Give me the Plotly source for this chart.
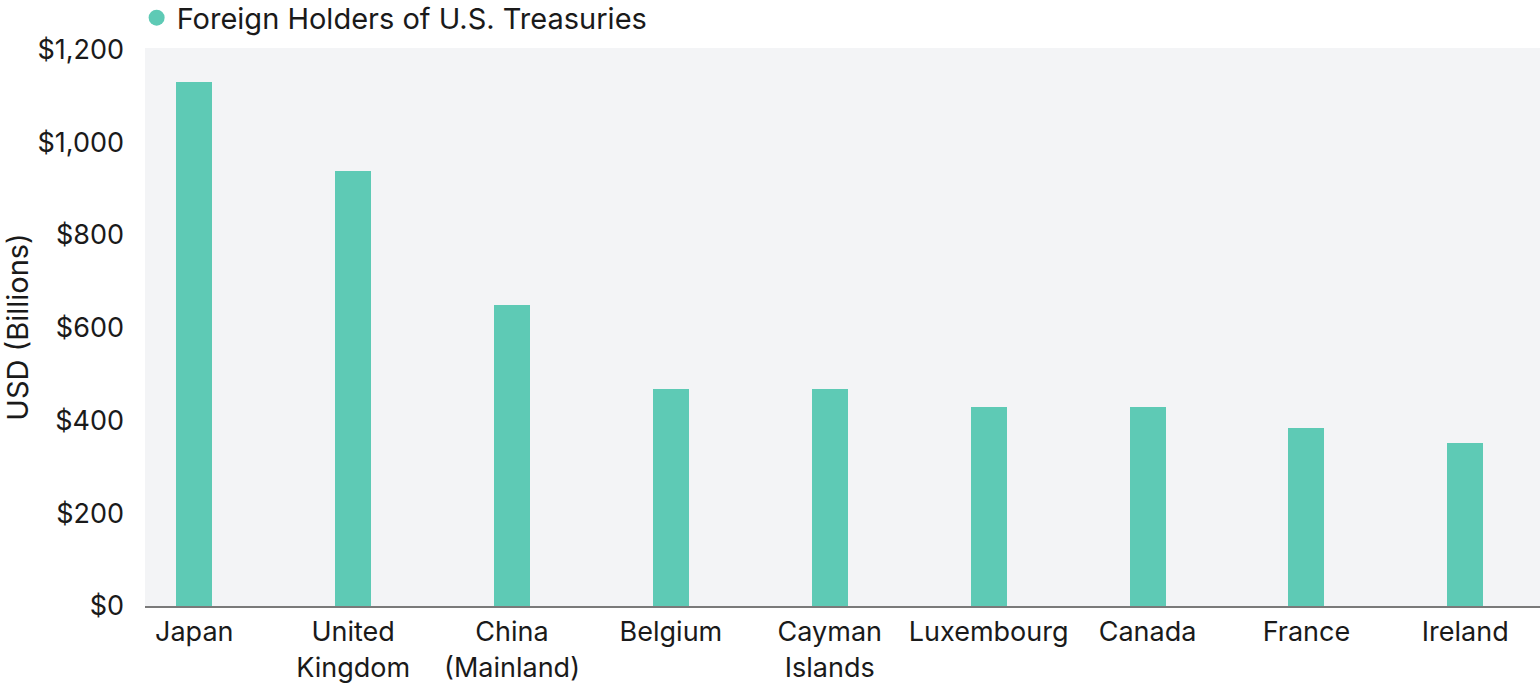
import plotly.graph_objects as go

categories = ["Japan", "United<br>Kingdom", "China<br>(Mainland)", "Belgium", "Cayman<br>Islands",
              "Luxembourg", "Canada", "France", "Ireland"]
holdings = [1130, 937, 650, 468, 468, 430, 430, 383, 352]
y_ticks = [0, 200, 400, 600, 800, 1000, 1200]
y_tick_labels = ["$0", "$200", "$400", "$600", "$800", "$1,000", "$1,200"]
series_name = "Foreign Holders of U.S. Treasuries"

BAR = "#5ECAB5"
FONT = "Inter"

fig = go.Figure()
fig.add_trace(go.Bar(
    x=list(range(len(categories))), y=holdings, width=0.227,
    marker=dict(color=BAR, line=dict(width=0)), showlegend=False, name=series_name,
))
fig.add_trace(go.Scatter(
    x=[None], y=[None], mode="markers", name=series_name,
    marker=dict(color=BAR, size=22, symbol="circle"), showlegend=True,
))

fig.update_layout(
    width=1540, height=684,
    margin=dict(l=145, r=0, t=48, b=78, autoexpand=False),
    paper_bgcolor="white", plot_bgcolor="#F3F4F6",
    font=dict(family=FONT, size=27, color="#1a1a1a"),
    legend=dict(x=-0.006, xanchor="left", y=1.054, yanchor="middle",
                orientation="h", bgcolor="rgba(0,0,0,0)",
                font=dict(size=29, color="#1a1a1a"), itemclick=False),
    bargap=0,
)
fig.update_xaxes(
    range=[-0.31, 8.47], tickmode="array", tickvals=list(range(len(categories))),
    ticktext=categories, showgrid=False, zeroline=False, showline=True,
    linecolor="#7a7a7a", linewidth=2, ticks="", tickfont=dict(size=27),
    ticklabelstandoff=1,
)
fig.update_yaxes(
    range=[0, 1203], tickmode="array", tickvals=y_ticks, ticktext=y_tick_labels,
    showgrid=False, zeroline=False, showline=False, ticks="",
    ticklabelstandoff=20, tickfont=dict(size=27),
    title=dict(text="USD (Billions)", standoff=0, font=dict(size=29)),
)

fig.write_html("out.html", config={"displayModeBar": False},
               post_script="document.body.style.margin='0';")
